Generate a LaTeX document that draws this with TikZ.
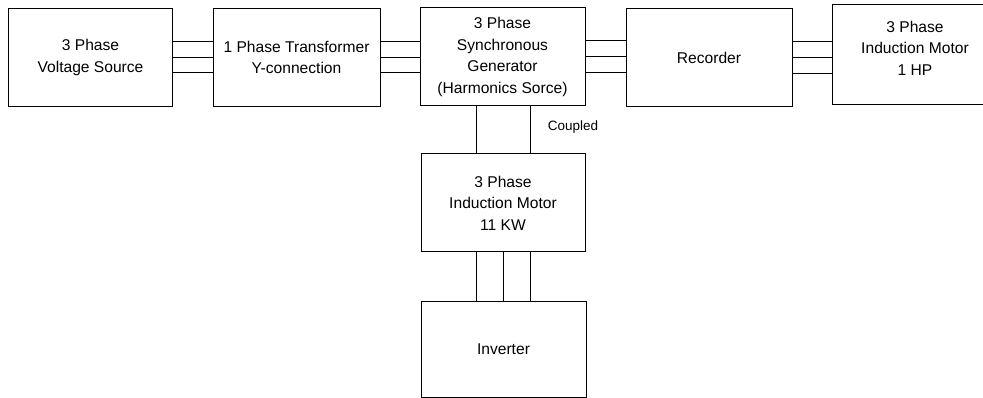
\documentclass[tikz,border=0pt]{standalone}
\usepackage{fontspec}
\setmainfont{Liberation Sans}
\usepackage{tikz}

\begin{document}
\begin{tikzpicture}[
  x=1pt,y=-1pt,
  font=\fontsize{15.6}{21.5}\selectfont,
  block/.style={draw,line width=1pt,align=center,inner sep=2pt},
  wire/.style={line width=1pt}
]
  \useasboundingbox (0,0) rectangle (983,398);
  \clip (0,0) rectangle (983,398);

  % top row
  \node[block,minimum width=164pt,minimum height=98pt] (vs) at (90.5,57.5)
    {3 Phase\\Voltage Source};
  \node[block,minimum width=167pt,minimum height=98pt] (tr) at (296.5,57.5)
    {1 Phase Transformer\\Y-connection};
  \node[block,minimum width=165pt,minimum height=98pt] (sg) at (502.5,57)
    {3 Phase\\Synchronous\\Generator\\(Harmonics Sorce)};
  \node[block,minimum width=166pt,minimum height=98pt] (rec) at (709,57.5)
    {Recorder};
  \node[block,minimum width=158pt,minimum height=100pt] (im) at (911,55) {};
  \node[align=center] (imt) at (915,48) {3 Phase\\Induction Motor\\1 HP};

  % lower column
  \node[block,minimum width=164pt,minimum height=98pt] (dm) at (503,203)
    {3 Phase\\Induction Motor\\11 KW};
  \node[block,minimum width=165pt,minimum height=96pt] (inv) at (503.5,349)
    {Inverter};

  % three-phase wiring
  \foreach \dy in {15.5,0,-15.5} {
    \draw[wire] ([yshift=\dy pt]vs.east) -- ([yshift=\dy pt]vs.east -| tr.west);
    \draw[wire] ([yshift=\dy pt]tr.east) -- ([yshift=\dy pt]tr.east -| sg.west);
  }
  \foreach \dy in {16,0,-16} {
    \draw[wire] ([yshift=\dy pt]sg.east) -- ([yshift=\dy pt]sg.east -| rec.west);
    \draw[wire] ([yshift=\dy pt]rec.east) -- ([yshift=\dy pt]rec.east -| im.west);
  }
  \foreach \dx in {-27,0,27}
    \draw[wire] ([xshift=\dx pt]dm.south) -- ([xshift=\dx pt]dm.south |- inv.north);

  % shaft coupling
  \draw[wire] ([xshift=-26.5pt]sg.south) -- ([xshift=-26.5pt]sg.south |- dm.north);
  \draw[wire] ([xshift=27.5pt]sg.south) -- ([xshift=27.5pt]sg.south |- dm.north);
  \node[font=\fontsize{13.5}{15}\selectfont] (cp) at (573,127) {Coupled};
\end{tikzpicture}
\end{document}
